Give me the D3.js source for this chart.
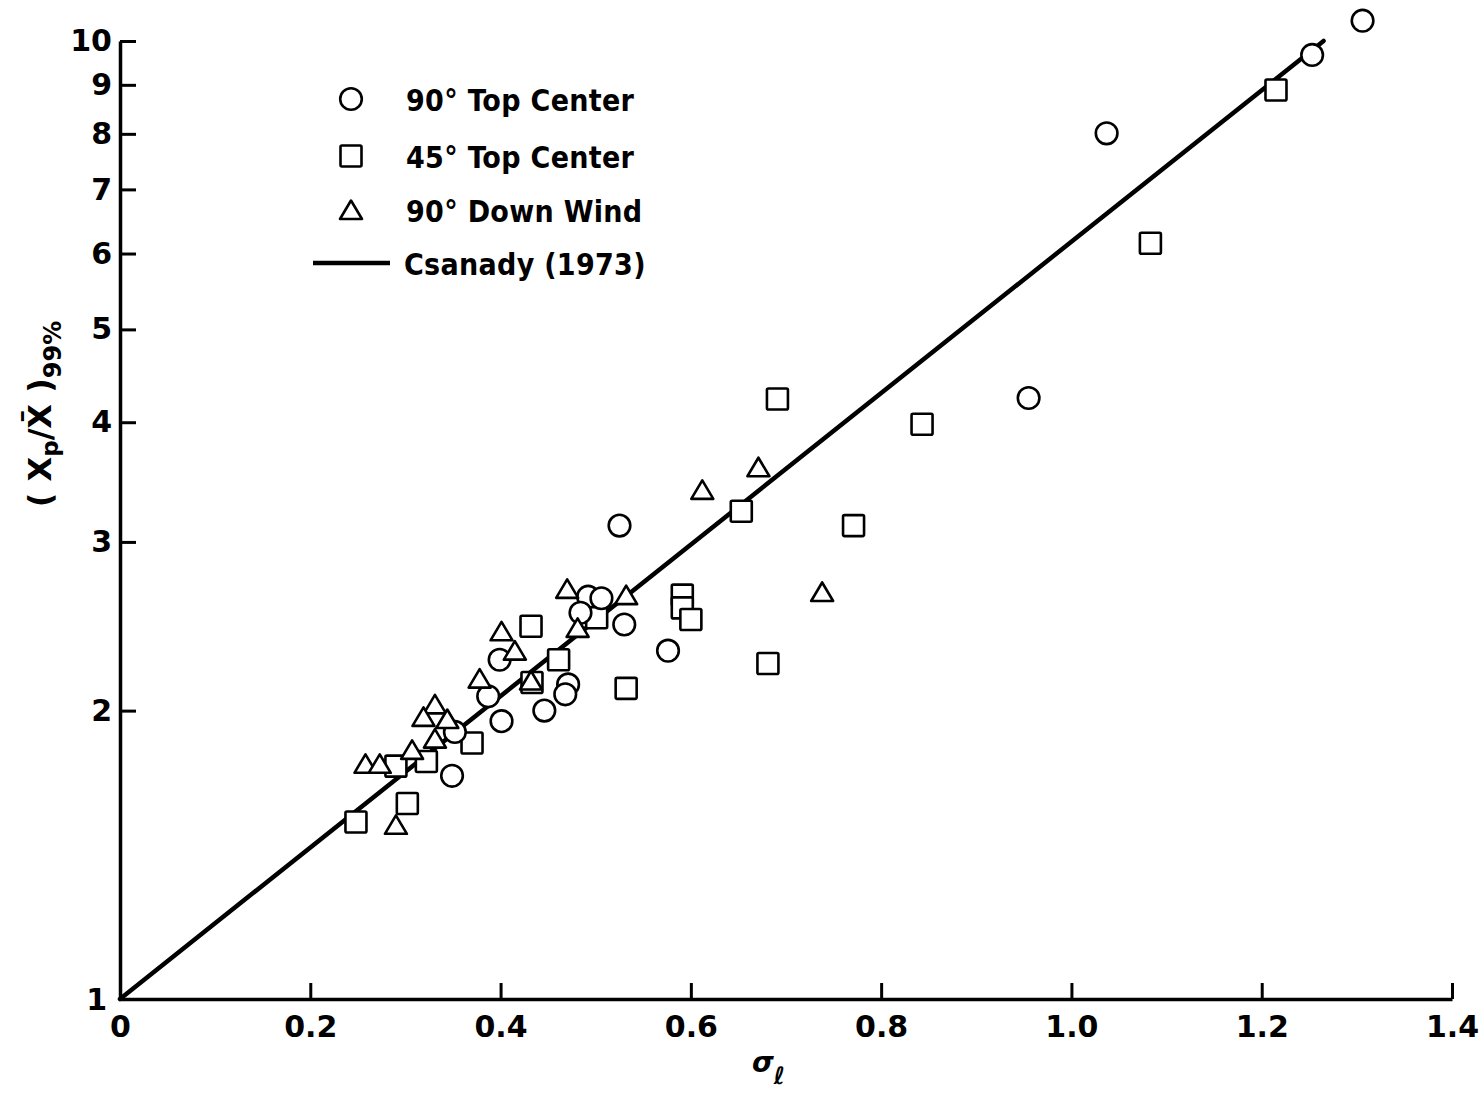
<!DOCTYPE html>
<html>
<head>
<meta charset="utf-8">
<script src="https://cdn.jsdelivr.net/npm/d3@7"></script>
<style>
  html, body { margin: 0; padding: 0; background: #fff; }
  svg { display: block; }
  text { fill: #000; }
</style>
</head>
<body>
<svg id="chart" width="1481" height="1093"></svg>
<script>
// sigma_l vs (Xp / Xbar) 99% ratio, three release configurations
const topCenter90 = [
  [1.306, 10.5], [1.253, 9.67], [1.037, 8.01], [0.955, 4.24], [0.525, 3.12],
  [0.492, 2.63], [0.506, 2.62], [0.484, 2.53], [0.530, 2.46], [0.576, 2.31],
  [0.399, 2.26], [0.387, 2.07], [0.471, 2.13], [0.468, 2.08], [0.446, 2.00],
  [0.401, 1.95], [0.352, 1.90], [0.349, 1.71]
];
const topCenter45 = [
  [1.215, 8.89], [1.083, 6.15], [0.691, 4.23], [0.843, 3.98], [0.653, 3.23],
  [0.771, 3.12], [0.591, 2.64], [0.591, 2.56], [0.600, 2.49], [0.501, 2.50],
  [0.432, 2.45], [0.461, 2.26], [0.681, 2.24], [0.433, 2.14], [0.532, 2.11],
  [0.370, 1.85], [0.322, 1.77], [0.290, 1.75], [0.302, 1.60], [0.248, 1.53]
];
const downWind90 = [
  [0.671, 3.59], [0.612, 3.40], [0.738, 2.66], [0.470, 2.68], [0.532, 2.64],
  [0.481, 2.44], [0.401, 2.42], [0.415, 2.31], [0.432, 2.15], [0.378, 2.16],
  [0.331, 2.03], [0.319, 1.97], [0.344, 1.96], [0.331, 1.87], [0.307, 1.82],
  [0.258, 1.76], [0.273, 1.76], [0.290, 1.52]
];
// Csanady (1973) relation: straight on log-linear axes
const csanady = [[0, 1], [1.265, 10]];

const xTicks = [0, 0.2, 0.4, 0.6, 0.8, 1.0, 1.2, 1.4];
const xTickLabels = ["0", "0.2", "0.4", "0.6", "0.8", "1.0", "1.2", "1.4"];
const yTicks = [1, 2, 3, 4, 5, 6, 7, 8, 9, 10];
const yTickLabels = ["1", "2", "3", "4", "5", "6", "7", "8", "9", "10"];

const legendItems = [
  { label: "90° Top Center", shape: "circle" },
  { label: "45° Top Center", shape: "square" },
  { label: "90° Down Wind", shape: "triangle" },
  { label: "Csanady (1973)", shape: "line" }
];

const svg = d3.select("#chart");
const FONT = "'DejaVu Sans', 'Liberation Sans', sans-serif";

const x = d3.scaleLinear().domain([0, 1.4]).range([120, 1452]);
const y = d3.scaleLog().domain([1, 10]).range([999, 41]);

// ---- axes ----
const xAxis = d3.axisBottom(x)
  .tickValues(xTicks)
  .tickFormat((d, i) => xTickLabels[i])
  .tickSizeInner(-16)
  .tickSizeOuter(0)
  .tickPadding(17);

const gx = svg.append("g").attr("transform", `translate(0,${y(1)})`).call(xAxis);
gx.select(".domain").attr("stroke", "#000").attr("stroke-width", 3.5);
gx.selectAll(".tick line").attr("stroke", "#000").attr("stroke-width", 3);
gx.selectAll(".tick").filter(d => d === 0).select("line").remove();
gx.selectAll(".tick text")
  .attr("font-family", FONT).attr("font-weight", "bold").attr("font-size", 30)
  .attr("fill", "#000");

const yAxis = d3.axisLeft(y)
  .tickValues(yTicks)
  .tickFormat((d, i) => yTickLabels[i])
  .tickSizeInner(-16)
  .tickSizeOuter(0)
  .tickPadding(8);

const gy = svg.append("g").attr("transform", `translate(${x(0)},0)`).call(yAxis);
gy.select(".domain").attr("stroke", "#000").attr("stroke-width", 3.5);
gy.selectAll(".tick line").attr("stroke", "#000").attr("stroke-width", 3);
gy.selectAll(".tick").filter(d => d === 1).select("line").remove();
gy.selectAll(".tick text")
  .attr("font-family", FONT).attr("font-weight", "bold").attr("font-size", 30)
  .attr("fill", "#000");
gy.selectAll(".tick").filter(d => d === 1).select("text").attr("x", -13).attr("dy", "0.35em");

// ---- axis titles ----
const xTitle = svg.append("text")
  .attr("x", 752).attr("y", 1072)
  .attr("font-family", FONT).attr("font-weight", "bold")
  .attr("font-size", 28);
xTitle.append("tspan").attr("font-style", "italic").text("σ");
xTitle.append("tspan").attr("dy", 12).attr("font-size", 24).attr("font-style", "italic").text("ℓ");

const yTitle = svg.append("text")
  .attr("transform", "translate(51,414) rotate(-90)")
  .attr("text-anchor", "middle")
  .attr("font-family", FONT).attr("font-weight", "bold")
  .attr("font-size", 32);
yTitle.append("tspan").text("( X");
yTitle.append("tspan").attr("dy", 7).attr("font-size", 23).text("p");
yTitle.append("tspan").attr("dy", -7).text("/X\u0304 )");
yTitle.append("tspan").attr("dy", 10).attr("font-size", 24).text("99%");

// ---- Csanady line ----
const line = d3.line().x(d => x(d[0])).y(d => y(d[1]));
svg.append("path")
  .datum(csanady)
  .attr("d", line)
  .attr("fill", "none")
  .attr("stroke", "#000")
  .attr("stroke-width", 4.5)
  .attr("stroke-linecap", "round");

// ---- markers ----
const markStyle = sel => sel.attr("fill", "#fff").attr("stroke", "#000").attr("stroke-width", 2.6);
const triPath = "M0,-9.5L11,9L-11,9Z";

const drawSquare = (g, cx, cy) => g.append("rect")
  .attr("x", cx - 10.5).attr("y", cy - 10.5)
  .attr("width", 21).attr("height", 21).attr("rx", 1.5).call(markStyle);
const drawCircle = (g, cx, cy) => g.append("circle")
  .attr("cx", cx).attr("cy", cy).attr("r", 10.8).call(markStyle);
const drawTriangle = (g, cx, cy) => g.append("path")
  .attr("d", triPath).attr("transform", `translate(${cx},${cy})`)
  .attr("stroke-linejoin", "round").call(markStyle);

const marks = svg.append("g");
topCenter45.forEach(d => drawSquare(marks, x(d[0]), y(d[1])));
topCenter90.forEach(d => drawCircle(marks, x(d[0]), y(d[1])));
downWind90.forEach(d => drawTriangle(marks, x(d[0]), y(d[1])));

// ---- legend ----
const legend = svg.append("g");
const legendRows = [99, 156, 210, 263];
legendItems.forEach((item, i) => {
  const cy = legendRows[i];
  if (item.shape === "circle") drawCircle(legend, 351, cy);
  if (item.shape === "square") drawSquare(legend, 351, cy);
  if (item.shape === "triangle") drawTriangle(legend, 351, cy);
  if (item.shape === "line") {
    legend.append("line")
      .attr("x1", 313).attr("x2", 390).attr("y1", cy).attr("y2", cy)
      .attr("stroke", "#000").attr("stroke-width", 4.5);
  }
  legend.append("text")
    .attr("x", item.shape === "line" ? 404 : 406).attr("y", cy + 12)
    .attr("font-family", "'DejaVu Sans Condensed', 'DejaVu Sans', sans-serif")
    .attr("font-weight", "bold").attr("font-size", 30)
    .attr("letter-spacing", 0.3)
    .text(item.label);
});
</script>
</body>
</html>
